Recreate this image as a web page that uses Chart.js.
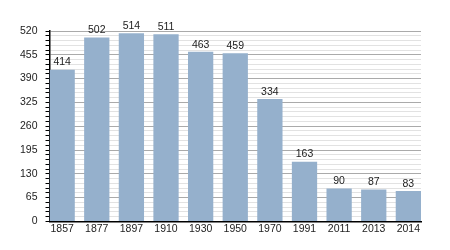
<!DOCTYPE html>
<html>
<head>
<meta charset="utf-8">
<script src="https://cdn.jsdelivr.net/npm/chart.js@4/dist/chart.umd.min.js"></script>
<style>
  html, body { margin: 0; padding: 0; background: #fff; }
  #wrap { width: 450px; height: 250px; }
</style>
</head>
<body>
<div id="wrap"><canvas id="popChart" width="450" height="250"></canvas></div>
<script>
// population by census year
const years = ['1857', '1877', '1897', '1910', '1930', '1950', '1970', '1991', '2011', '2013', '2014'];
const population = [414, 502, 514, 511, 463, 459, 334, 163, 90, 87, 83];
const yMax = 520;
const yMajorStep = 65;
const yMinorStep = 13;

const barFrac = 0.73; // share of each slot taken by a bar

// value labels above the bars
const valueLabels = {
  id: 'valueLabels',
  afterDatasetsDraw(chart) {
    const ctx = chart.ctx;
    const meta = chart.getDatasetMeta(0);
    ctx.save();
    ctx.font = '10.5px "Liberation Sans", Arial, sans-serif';
    ctx.fillStyle = '#222';
    ctx.textAlign = 'center';
    ctx.textBaseline = 'bottom';
    meta.data.forEach((bar, i) => {
      ctx.fillText(population[i], bar.x, bar.y - 2);
    });
    ctx.restore();
  }
};

const ctx = document.getElementById('popChart');
new Chart(ctx, {
  type: 'bar',
  data: {
    datasets: [{
      data: population.map((v, i) => ({ x: i, y: v })),
      backgroundColor: '#95b0cc',
      borderWidth: 0,
      barPercentage: 1,
      categoryPercentage: barFrac
    }]
  },
  options: {
    responsive: false,
    animation: false,
    layout: { padding: { top: 31, right: 29, left: 12, bottom: 14 } },
    plugins: { legend: { display: false }, tooltip: { enabled: false } },
    scales: {
      x: {
        type: 'linear',
        offset: false,
        min: -barFrac / 2,
        max: years.length - 1 + barFrac / 2,
        afterBuildTicks: s => { s.ticks = years.map((_, i) => ({ value: i })); },
        ticks: {
          callback: v => years[v],
          color: '#222',
          font: { family: '"Liberation Sans", Arial, sans-serif', size: 10.5 },
          padding: 1,
          maxRotation: 0,
          autoSkip: false
        },
        grid: { display: false, drawTicks: false, offset: false },
        border: { display: true, color: '#000', width: 1.5 }
      },
      y: {
        min: 0,
        max: yMax,
        ticks: {
          stepSize: yMinorStep,
          callback: v => (v % yMajorStep === 0 ? v : ''),
          color: '#222',
          font: { family: '"Liberation Sans", Arial, sans-serif', size: 10.5 },
          padding: 8,
          autoSkip: false
        },
        grid: {
          color: c => (c.tick.value % yMajorStep === 0 ? '#aaaaaa' : '#e2e2e2'),
          tickColor: '#000',
          tickLength: 4,
          drawTicks: true
        },
        border: { display: true, color: '#000', width: 1.5 }
      }
    }
  },
  plugins: [valueLabels]
});
</script>
</body>
</html>
